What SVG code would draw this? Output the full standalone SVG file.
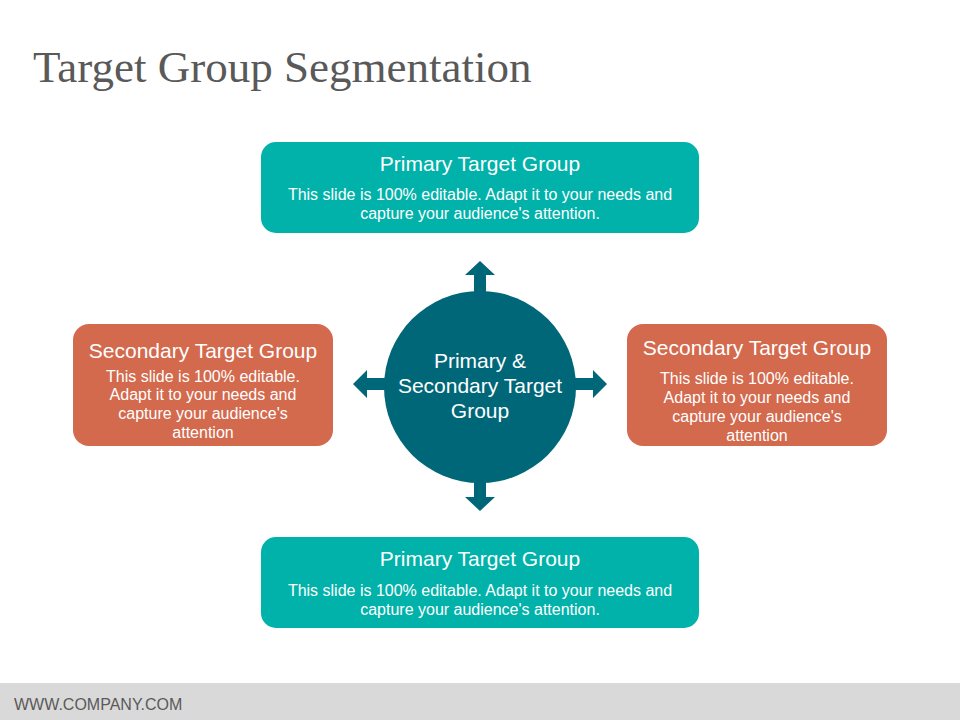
<svg xmlns="http://www.w3.org/2000/svg" width="960" height="720" viewBox="0 0 960 720">
<style>
.teal{fill:#00b2a9}
.orange{fill:#d3694d}
.hub{fill:#006778}
.arrow{fill:#006778}
.h{font-family:"Liberation Sans",Arial,sans-serif;font-size:21px;fill:#ffffff;text-anchor:middle}
.b{font-family:"Liberation Sans",Arial,sans-serif;font-size:16px;fill:#ffffff;text-anchor:middle}
.title{font-family:"Liberation Serif","Times New Roman",serif;font-size:45px;fill:#595959}
.foot{font-family:"Liberation Sans",Arial,sans-serif;font-size:16px;fill:#595959}
</style>
<rect width="960" height="720" fill="#ffffff"/>
<text class="title" x="33" y="82">Target Group Segmentation</text>
<g id="connectors">
<path class="arrow" d="M474,300 V275 H465 L480,261 L495,275 H486 V300 Z"/>
<path class="arrow" d="M474,475 V497 H465 L480,511 L495,497 H486 V475 Z"/>
<path class="arrow" d="M390,378 H367 V370 L353,384 L367,398 V390 H390 Z"/>
<path class="arrow" d="M570,378 H593 V370 L607,384 L593,398 V390 H570 Z"/>
</g>
<g id="hub">
<circle class="hub" cx="480" cy="387" r="96"/>
<text class="h" x="480" y="368">Primary &amp;</text>
<text class="h" x="480" y="393">Secondary Target</text>
<text class="h" x="480" y="418">Group</text>
</g>
<g id="primary-top">
<rect class="teal" x="261" y="142" width="438" height="91" rx="15"/>
<text class="h" x="480" y="171">Primary Target Group</text>
<text class="b" x="480" y="200">This slide is 100% editable. Adapt it to your needs and</text>
<text class="b" x="480" y="219">capture your audience's attention.</text>
</g>
<g id="primary-bottom">
<rect class="teal" x="261" y="537" width="438" height="91" rx="15"/>
<text class="h" x="480" y="566">Primary Target Group</text>
<text class="b" x="480" y="596">This slide is 100% editable. Adapt it to your needs and</text>
<text class="b" x="480" y="615">capture your audience's attention.</text>
</g>
<g id="secondary-left">
<rect class="orange" x="73" y="324" width="260" height="122" rx="16"/>
<text class="h" x="203" y="358">Secondary Target Group</text>
<text class="b" x="203" y="382">This slide is 100% editable.</text>
<text class="b" x="203" y="400">Adapt it to your needs and</text>
<text class="b" x="203" y="419">capture your audience's</text>
<text class="b" x="203" y="438">attention</text>
</g>
<g id="secondary-right">
<rect class="orange" x="627" y="324" width="260" height="122" rx="16"/>
<text class="h" x="757" y="355">Secondary Target Group</text>
<text class="b" x="757" y="384">This slide is 100% editable.</text>
<text class="b" x="757" y="403">Adapt it to your needs and</text>
<text class="b" x="757" y="422">capture your audience's</text>
<text class="b" x="757" y="441">attention</text>
</g>
<g id="footer">
<rect x="0" y="683" width="960" height="37" fill="#d9d9d9"/>
<text class="foot" x="14" y="710">WWW.COMPANY.COM</text>
</g>
</svg>
